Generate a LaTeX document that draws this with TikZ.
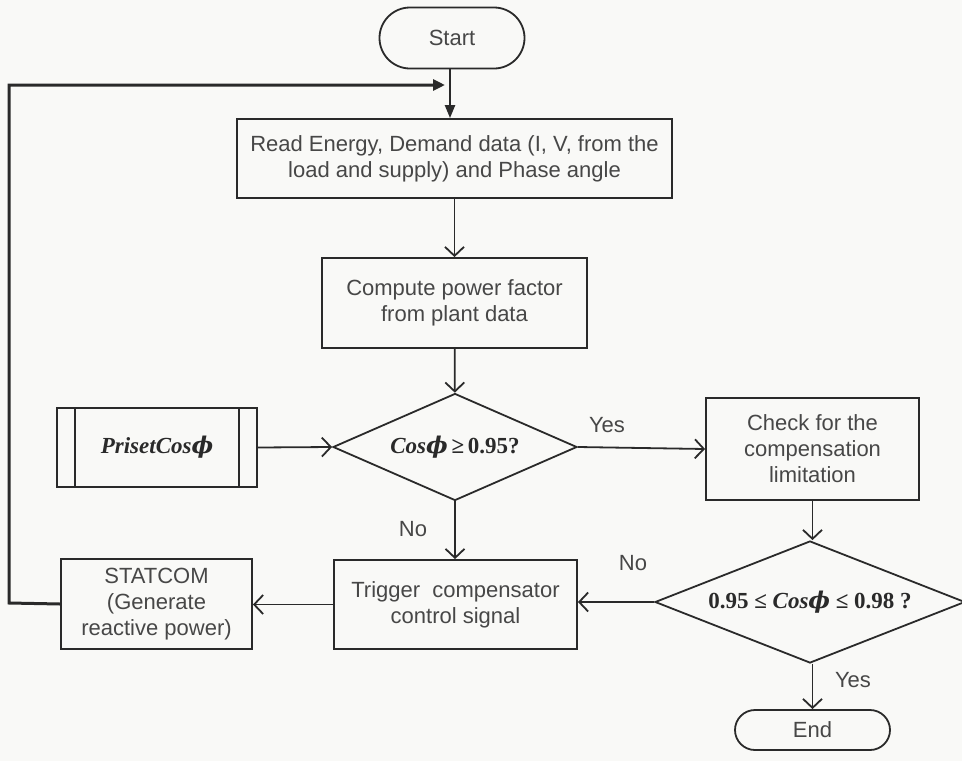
\documentclass[tikz,border=0pt]{standalone}
\usepackage{fontspec}
\setmainfont{Liberation Sans}
\newfontfamily\timesfont{Liberation Serif}
\newfontfamily\phifont{DejaVu Serif}
\usetikzlibrary{shapes.geometric,shapes.misc,arrows.meta}

\definecolor{ink}{HTML}{2A2A2A}
\definecolor{txt}{HTML}{474747}
\definecolor{paper}{HTML}{F9F9F7}

% bold italic serif used for the power-factor expressions
\newcommand{\pfexpr}[1]{{\timesfont\bfseries\itshape #1}}
\newcommand{\pfphi}{{\phifont\bfseries\itshape ϕ}}
\newcommand{\pfnum}[1]{{\timesfont\bfseries #1}}

\tikzset{
  base/.style={draw=ink, line width=1.8pt, text=txt, align=center,
               inner sep=2pt, font=\fontsize{22}{26}\selectfont},
  procbox/.style={base, rectangle},
  termbox/.style={base, rounded rectangle},
  decbox/.style={base, diamond, aspect=2.5, inner sep=0pt},
  flow/.style={draw=ink, line width=1.8pt,
               -{Straight Barb[length=9pt,width=19pt,line width=1.8pt]}},
  solidflow/.style={draw=ink, line width=2.2pt,
               -{Triangle[length=13pt,width=10pt]}},
  looptrack/.style={draw=ink, line width=3pt,
               -{Triangle[length=12pt,width=11pt]}},
  lbl/.style={text=txt, font=\fontsize{22}{26}\selectfont, inner sep=0pt},
  exprfont/.style={text=ink, font=\fontsize{23}{26}\selectfont}
}

\begin{document}
\begin{tikzpicture}[x=1pt,y=-1pt]
  \fill[paper] (0,0) rectangle (962,761);
  \useasboundingbox (0,0) rectangle (962,761);

  % terminals
  \node[termbox, minimum width=149pt, minimum height=61pt] (start) at (452,38) {Start};
  \node[termbox, minimum width=159pt, minimum height=40pt] (finish) at (812.5,730) {End};

  % processing steps
  \node[procbox, minimum width=435pt, minimum height=79pt] (read) at (454.5,158.5)
    {Read Energy, Demand data (I, V, from the\\load and supply) and Phase angle};
  \node[procbox, minimum width=265pt, minimum height=90pt] (compute) at (454.5,303)
    {Compute power factor\\from plant data};
  \node[procbox, minimum width=213pt, minimum height=102pt] (check) at (812.5,449)
    {Check for the\\compensation\\limitation};
  \node[procbox, minimum width=243pt, minimum height=89pt] (trigger) at (455.5,604.5)
    {Trigger\ \ compensator\\control signal};
  \node[procbox, minimum width=191pt, minimum height=90pt] (statcom) at (156.5,604)
    {STATCOM\\(Generate\\reactive power)};

  % predefined setting
  \node[procbox, minimum width=200pt, minimum height=79pt, exprfont] (preset) at (157,447.5)
    {\pfexpr{PrisetCos}\pfphi};
  \draw[ink, line width=1.8pt] ([xshift=19pt]preset.north west) -- ([xshift=19pt]preset.south west);
  \draw[ink, line width=1.8pt] ([xshift=-19pt]preset.north east) -- ([xshift=-19pt]preset.south east);

  % decisions
  \node[decbox, minimum width=244pt, minimum height=107pt, exprfont] (pfcheck) at (455,447)
    {\pfexpr{Cos}\pfphi\pfnum{\,≥\,0.95?}};
  \node[decbox, minimum width=310pt, minimum height=122pt, exprfont] (rangecheck) at (810,602)
    {\pfnum{0.95 ≤ }\pfexpr{Cos}\pfphi\pfnum{\ ≤ 0.98 ?}};

  % connectors
  \coordinate (loopend) at (445,85);
  \draw[solidflow] (start.south -| 450,0) -- (read.north -| 450,0);
  \draw[flow] (read) -- (compute);
  \draw[flow] (compute) -- (pfcheck);
  \draw[flow] (preset.east) -- (pfcheck.west);
  \draw[flow] (pfcheck.east) -- (check.west);
  \draw[flow] (pfcheck.south) -- (trigger.north -| pfcheck.south);
  \draw[flow] (check.south) -- (rangecheck.north -| check.south);
  \draw[flow] (rangecheck.west) -- (trigger.east |- rangecheck.west);
  \draw[flow] (trigger.west) -- (statcom.east |- trigger.west);
  \draw[flow] (rangecheck.south -| finish.north) -- (finish.north);
  \draw[looptrack] (statcom.west) -- (9,603) -- (9,85) -- (loopend);

  % branch labels
  \node[lbl] (yes1) at (607,425) {Yes};
  \node[lbl] (no1) at (413,529) {No};
  \node[lbl] (no2) at (633,563) {No};
  \node[lbl] (yes2) at (853,680) {Yes};
\end{tikzpicture}
\end{document}
